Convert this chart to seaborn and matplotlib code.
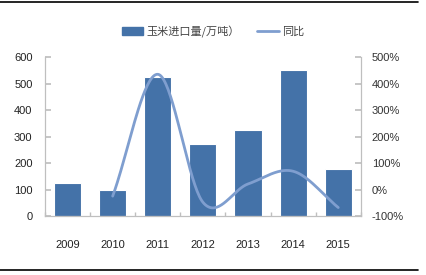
import numpy as np
import pandas as pd
import matplotlib
matplotlib.use("Agg")
import matplotlib.pyplot as plt
import seaborn as sns
from matplotlib.lines import Line2D
from matplotlib.patches import Patch

years = ["2009", "2010", "2011", "2012", "2013", "2014", "2015"]
imports = [126, 97, 523, 270, 326, 552, 176]
yoy_years = ["2010", "2011", "2012", "2013", "2014", "2015"]
yoy = [-25, 435, -48, 21, 69, -68]
bar_label = "玉米进口量/万吨）"
line_label = "同比"

sns.set_theme(style="white")
plt.rcParams['font.family'] = ['Liberation Sans', 'Noto Sans CJK SC', 'DejaVu Sans']

bar_color = "#4472A8"
line_color = "#7F9ECF"

fig = plt.figure(figsize=(4.26, 2.75), dpi=100)
ax = fig.add_axes([0.1056, 0.2145, 0.7414, 0.578])

df = pd.DataFrame({"year": years, "imports": imports})
sns.barplot(data=df, x="year", y="imports", color=bar_color, width=0.6,
            edgecolor="white", linewidth=0.8, saturation=1, ax=ax)
ax.set_xlim(-0.5, 6.5)
ax.set_ylim(0, 600)
ax.set_yticks(range(0, 601, 100))
ax.set_xlabel("")
ax.set_ylabel("")

ax2 = ax.twinx()
ax2.set_ylim(-100, 500)
ax2.set_yticks(range(-100, 501, 100))
ax2.set_yticklabels([f"{v}%" for v in range(-100, 501, 100)])

# Catmull-Rom smoothing of the yoy series (Excel-style smoothed line)
xs = np.array([years.index(y) for y in yoy_years], dtype=float)
ys = np.array(yoy, dtype=float)
px = np.concatenate([[2 * xs[0] - xs[1]], xs, [2 * xs[-1] - xs[-2]]])
py = np.concatenate([[2 * ys[0] - ys[1]], ys, [2 * ys[-1] - ys[-2]]])
sx, sy = [], []
t = np.linspace(0, 1, 40)
for i in range(1, len(px) - 2):
    p0, p1, p2, p3 = [np.array([px[j], py[j]]) for j in range(i - 1, i + 3)]
    for tt in t:
        pt = 0.5 * ((2 * p1) + (-p0 + p2) * tt + (2 * p0 - 5 * p1 + 4 * p2 - p3) * tt ** 2
                    + (-p0 + 3 * p1 - 3 * p2 + p3) * tt ** 3)
        sx.append(pt[0]); sy.append(pt[1])
sm = pd.DataFrame({"x": sx, "y": sy})
sns.lineplot(data=sm, x="x", y="y", sort=False, color=line_color, linewidth=2, ax=ax2)
ax2.set_xlim(-0.5, 6.5)
ax2.set_xlabel("")
ax2.set_ylabel("")

spine_c = "#BFBFBF"
for a in (ax, ax2):
    a.spines["top"].set_visible(False)
    for s in ("left", "right", "bottom"):
        a.spines[s].set_color(spine_c)
        a.spines[s].set_linewidth(0.8)

ax.tick_params(axis="y", which="both", left=True, direction="in", length=4, color=spine_c,
               labelsize=8, labelcolor="#222222", pad=9)
ax2.tick_params(axis="y", which="both", right=True, direction="in", length=4, color=spine_c,
                labelsize=8, labelcolor="#333333", pad=8)
ax.tick_params(axis="x", bottom=False, labelsize=8, labelcolor="#222222", pad=11)
ax.set_xticks(np.arange(-0.5, 7, 1), minor=True)
ax.tick_params(axis="x", which="minor", bottom=True, direction="in", length=3, color=spine_c)

handles = [Patch(facecolor=bar_color, edgecolor=bar_color),
           Line2D([0], [0], color=line_color, linewidth=2)]
fig.legend(handles, [bar_label, line_label], loc="center", bbox_to_anchor=(0.5, 0.885),
           ncol=2, frameon=False, handlelength=1.9, handleheight=0.7,
           columnspacing=1.6, handletextpad=0.3,
           prop={"family": ["Noto Sans CJK SC", "DejaVu Sans"], "size": 8},
           labelcolor="#444444")

fig.add_artist(Line2D([0.0, 0.982], [0.993, 0.993], color="black", linewidth=1.2, transform=fig.transFigure))
fig.add_artist(Line2D([0.0, 0.982], [0.018, 0.018], color="black", linewidth=1.2, transform=fig.transFigure))

fig.savefig("out.png", dpi=100)
